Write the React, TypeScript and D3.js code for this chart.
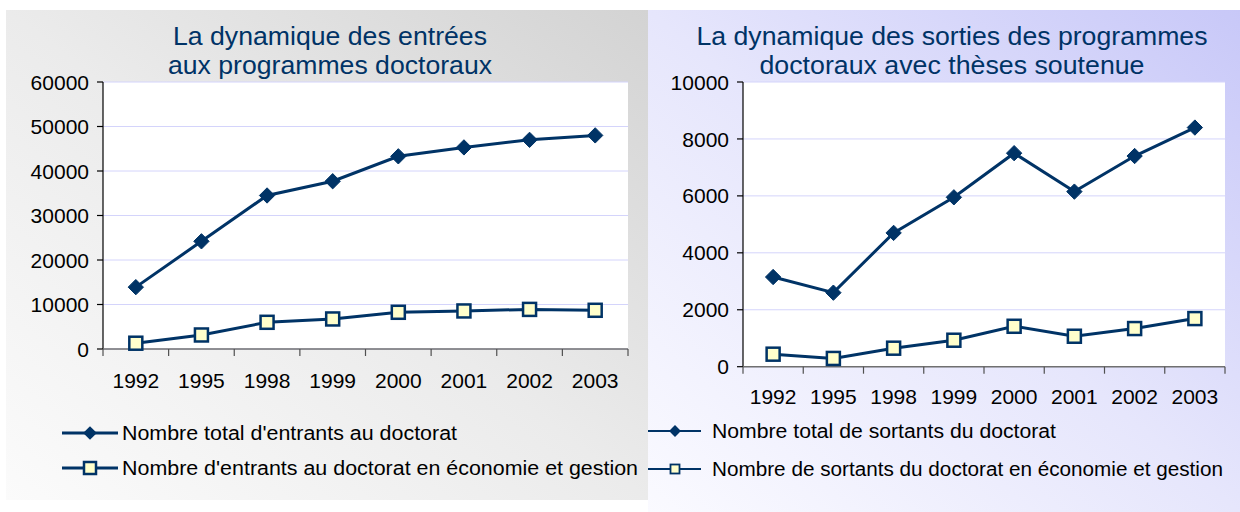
import React from 'react';
import * as d3 from 'd3';

const years = ['1992', '1995', '1998', '1999', '2000', '2001', '2002', '2003'];
const entrantsTotal = [13900, 24200, 34500, 37700, 43300, 45300, 47000, 48000];
const entrantsEco = [1300, 3150, 6000, 6750, 8250, 8550, 8900, 8700];
const sortantsTotal = [3150, 2600, 4700, 5950, 7500, 6150, 7400, 8400];
const sortantsEco = [440, 290, 650, 930, 1420, 1070, 1340, 1690];
const leftTicks = [0, 10000, 20000, 30000, 40000, 50000, 60000];
const rightTicks = [0, 2000, 4000, 6000, 8000, 10000];

const leftTitle = ['La dynamique des entrées', 'aux programmes doctoraux'];
const rightTitle = ['La dynamique des sorties des programmes', 'doctoraux avec thèses soutenue'];
const leftLegend = ["Nombre total d'entrants au doctorat", "Nombre d'entrants au doctorat en économie et gestion"];
const rightLegend = ['Nombre total de sortants du doctorat', 'Nombre de sortants du doctorat en économie et gestion'];

const NAVY = '#003366';
const FONT = '"Liberation Sans", Arial, sans-serif';

type PanelProps = {
  x0: number; x1: number; y0: number; y1: number;
  maxV: number; ticks: number[]; total: number[]; eco: number[];
  labelY: number; titleX: number; title: string[]; titleLens: number[];
};

function Panel(p: PanelProps) {
  const xb = d3.scaleBand<string>().domain(years).range([p.x0, p.x1]).padding(0);
  const y = d3.scaleLinear().domain([0, p.maxV]).range([p.y1, p.y0]);
  const cx = (d: string) => (xb(d) as number) + xb.bandwidth() / 2;
  const line = d3.line<number>().x((_, i) => cx(years[i])).y((v) => y(v));
  const diamond = d3.symbol().type(d3.symbolDiamond2).size(150)();
  const boundaries = years.map((d) => xb(d) as number).concat([p.x1]);
  return (
    <g>
      <rect x={p.x0} y={p.y0} width={p.x1 - p.x0} height={p.y1 - p.y0} fill="#ffffff" />
      {p.ticks.map((t) => (
        <line key={'g' + t} x1={p.x0} x2={p.x1} y1={y(t)} y2={y(t)} stroke="#d4d4fb" strokeWidth={1} />
      ))}
      {p.ticks.map((t) => (
        <g key={'t' + t}>
          <line x1={p.x0 - 6} x2={p.x0} y1={y(t)} y2={y(t)} stroke="#000" strokeWidth={1.2} />
          <text x={p.x0 - 14} y={y(t)} dy="0.36em" textAnchor="end" fontFamily={FONT} fontSize={21} fill="#000">{t}</text>
        </g>
      ))}
      <line x1={p.x0} x2={p.x0} y1={p.y0} y2={p.y1} stroke="#000" strokeWidth={1.2} />
      <line x1={p.x0} x2={p.x1} y1={p.y1} y2={p.y1} stroke="#707070" strokeWidth={1.5} />
      {boundaries.map((b, i) => (
        <line key={'b' + i} x1={b} x2={b} y1={p.y1} y2={p.y1 + 7} stroke="#505050" strokeWidth={1.2} />
      ))}
      {years.map((d) => (
        <text key={'x' + d} x={cx(d)} y={p.labelY} textAnchor="middle" fontFamily={FONT} fontSize={21} fill="#000">{d}</text>
      ))}
      <path d={line(p.total) || ''} fill="none" stroke={NAVY} strokeWidth={3} />
      <path d={line(p.eco) || ''} fill="none" stroke={NAVY} strokeWidth={3} />
      {p.total.map((v, i) => (
        <path key={'d' + i} d={diamond || ''} transform={`translate(${cx(years[i])},${y(v)})`} fill={NAVY} stroke={NAVY} strokeWidth={1} />
      ))}
      {p.eco.map((v, i) => (
        <rect key={'s' + i} x={cx(years[i]) - 6.5} y={y(v) - 6.5} width={13} height={13} fill="#ffffcc" stroke={NAVY} strokeWidth={2.5} />
      ))}
      {p.title.map((t, i) => (
        <text key={'ti' + i} x={p.titleX} y={45 + i * 29} textAnchor="middle" fontFamily={FONT} fontSize={25} fill={NAVY}
          textLength={p.titleLens[i]} lengthAdjust="spacingAndGlyphs">{t}</text>
      ))}
    </g>
  );
}

export default function App() {
  const diamondL = d3.symbol().type(d3.symbolDiamond2).size(120)();
  const diamondR = d3.symbol().type(d3.symbolDiamond2).size(90)();
  return (
    <svg width={1240} height={512} style={{ position: 'absolute', left: 0, top: 0 }} xmlns="http://www.w3.org/2000/svg">
      <defs>
        <linearGradient id="gL" x1="0" y1="1" x2="1" y2="0">
          <stop offset="0" stopColor="#fbfbfb" />
          <stop offset="0.5" stopColor="#ebebeb" />
          <stop offset="1" stopColor="#d3d3d3" />
        </linearGradient>
        <linearGradient id="gR" x1="0" y1="1" x2="1" y2="0">
          <stop offset="0" stopColor="#fafaff" />
          <stop offset="0.5" stopColor="#e6e6fc" />
          <stop offset="1" stopColor="#c8c8f8" />
        </linearGradient>
      </defs>
      <rect x={0} y={0} width={1240} height={512} fill="#ffffff" />
      <rect x={6} y={10} width={643} height={490} fill="url(#gL)" />
      <rect x={648} y={10} width={592} height={502} fill="url(#gR)" />
      <Panel x0={103} x1={628} y0={82} y1={349} maxV={60000} ticks={leftTicks} total={entrantsTotal} eco={entrantsEco}
        labelY={388} titleX={330} title={leftTitle} titleLens={[314, 324]} />
      <Panel x0={743} x1={1225} y0={82} y1={366.7} maxV={10000} ticks={rightTicks} total={sortantsTotal} eco={sortantsEco}
        labelY={404} titleX={952} title={rightTitle} titleLens={[511, 385]} />
      <g>
        <line x1={62} x2={118} y1={433} y2={433} stroke={NAVY} strokeWidth={3} />
        <path d={diamondL || ''} transform="translate(90,433)" fill={NAVY} />
        <text x={122} y={433} dy="0.36em" fontFamily={FONT} fontSize={20} fill="#000" textLength={335} lengthAdjust="spacingAndGlyphs">{leftLegend[0]}</text>
        <line x1={62} x2={118} y1={468} y2={468} stroke={NAVY} strokeWidth={3} />
        <rect x={84} y={462} width={12} height={12} fill="#ffffcc" stroke={NAVY} strokeWidth={2.5} />
        <text x={122} y={468} dy="0.36em" fontFamily={FONT} fontSize={20} fill="#000" textLength={516} lengthAdjust="spacingAndGlyphs">{leftLegend[1]}</text>
      </g>
      <g>
        <line x1={648} x2={701} y1={431} y2={431} stroke={NAVY} strokeWidth={2} />
        <path d={diamondR || ''} transform="translate(675,431)" fill={NAVY} />
        <text x={712} y={431} dy="0.36em" fontFamily={FONT} fontSize={20} fill="#000" textLength={344} lengthAdjust="spacingAndGlyphs">{rightLegend[0]}</text>
        <line x1={648} x2={701} y1={469} y2={469} stroke={NAVY} strokeWidth={2} />
        <rect x={670.5} y={464.5} width={9} height={9} fill="#ffffcc" stroke={NAVY} strokeWidth={1.8} />
        <text x={712} y={469} dy="0.36em" fontFamily={FONT} fontSize={20} fill="#000" textLength={511} lengthAdjust="spacingAndGlyphs">{rightLegend[1]}</text>
      </g>
    </svg>
  );
}
